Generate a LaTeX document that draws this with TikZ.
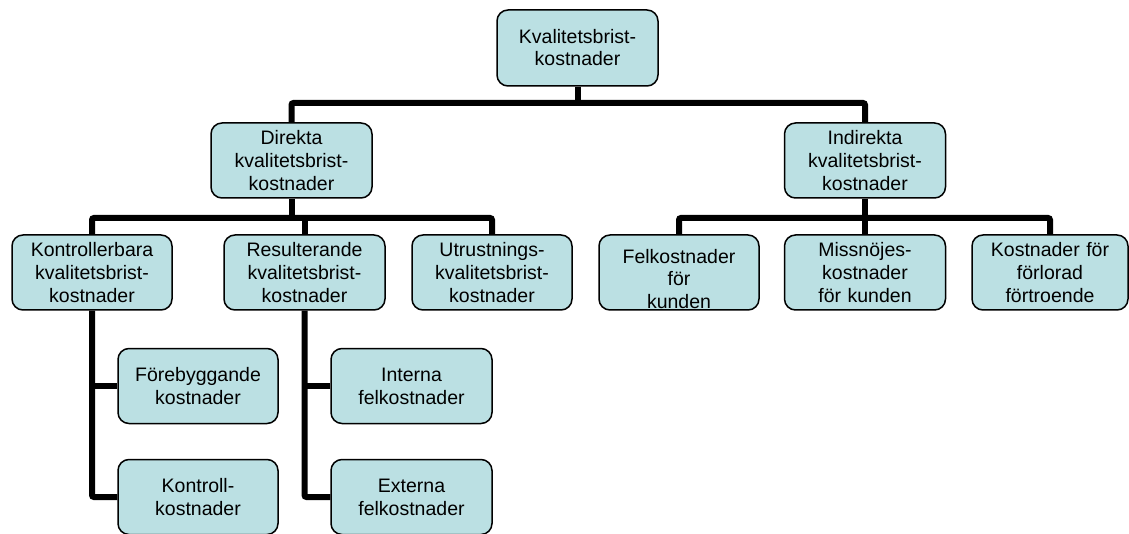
\documentclass[tikz,border=0pt]{standalone}
\usepackage{fontspec}
\setmainfont{Liberation Sans}
\definecolor{boxfill}{RGB}{187,224,227}
\begin{document}
\begin{tikzpicture}[x=1pt,y=-1pt,
  costbox/.style={draw=black, line width=1.5pt, fill=boxfill, rounded corners=11pt,
    minimum width=161pt, minimum height=75pt, inner sep=0pt,
    text width=155pt, align=center,
    font=\fontsize{19.5pt}{22.8pt}\selectfont},
  bar/.style={line width=6pt, black, rounded corners=2pt}]
\useasboundingbox (0,0) rectangle (1129,534);

% top level
\node[costbox, minimum height=76pt, font=\fontsize{19.5pt}{22pt}\selectfont] (top) at (577.5,48) {Kvalitetsbrist-\\kostnader};

% second level
\node[costbox] (dir) at (291.5,160.5) {Direkta\\kvalitetsbrist-\\kostnader};
\node[costbox] (ind) at (865,160.5) {Indirekta\\kvalitetsbrist-\\kostnader};

% third level, direct costs
\node[costbox, minimum width=160pt] (kon) at (92,272.5) {Kontrollerbara\\kvalitetsbrist-\\kostnader};
\node[costbox] (res) at (304.5,272.5) {Resulterande\\kvalitetsbrist-\\kostnader};
\node[costbox, minimum width=160pt] (utr) at (492,272.5) {Utrustnings-\\kvalitetsbrist-\\kostnader};

% third level, indirect costs
\node[costbox, minimum width=160pt] (fel) at (679,272.5) {\rule{0pt}{27pt}Felkostnader\\för\\kunden};
\node[costbox] (mis) at (865,272.5) {Missnöjes-\\kostnader\\för kunden};
\node[costbox, minimum width=156pt] (for) at (1050,272.5) {Kostnader för\\förlorad\\förtroende};

% fourth level
\node[costbox, minimum width=160pt] (fore) at (198,386) {Förebyggande\\kostnader};
\node[costbox, minimum width=160pt] (ktr) at (198,497) {Kontroll-\\kostnader};
\node[costbox] (int) at (411.5,386) {Interna\\felkostnader};
\node[costbox] (ext) at (411.5,497) {Externa\\felkostnader};

% junction points of the connector bars
\coordinate (j1) at (577.5,103);
\coordinate (j2) at (291.5,218);
\coordinate (j3) at (865,218);

% connectors
\draw[bar] (top.south) -- (j1);
\draw[bar] (dir.north) |- (j1) -| (ind.north);

\draw[bar] (dir.south) -- (j2);
\draw[bar] (kon.north) |- (j2) -| (utr.north);
\draw[bar] (res.north) -- (res.north |- j2);

\draw[bar] (ind.south) -- (j3);
\draw[bar] (fel.north) |- (j3) -| (for.north);
\draw[bar] (mis.north) -- (mis.north |- j3);

\draw[bar] (kon.south) |- (ktr.west);
\draw[bar] (fore.west) -- (fore.west -| kon.south);
\draw[bar] (res.south) |- (ext.west);
\draw[bar] (int.west) -- (int.west -| res.south);
\end{tikzpicture}
\end{document}
